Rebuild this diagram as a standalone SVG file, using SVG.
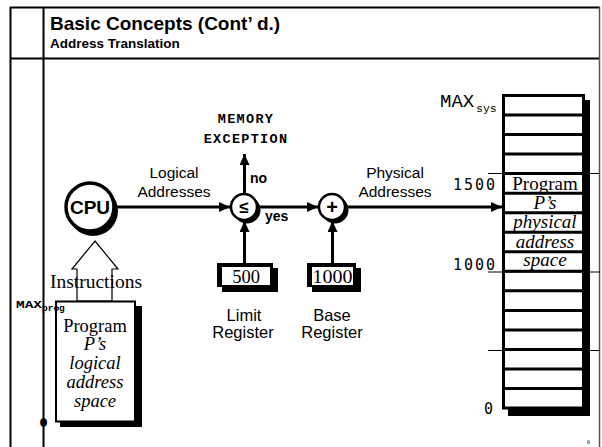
<svg xmlns="http://www.w3.org/2000/svg" width="602" height="447" viewBox="0 0 602 447">
  <style>
    .frame { stroke: #000; stroke-width: 2; fill: none; }
    .thin { stroke: #000; stroke-width: 1; fill: none; }
    .conn { stroke: #000; stroke-width: 3; fill: none; }
    .sans { font-family: "Liberation Sans", Arial, sans-serif; }
    .serif { font-family: "Liberation Serif", "Times New Roman", serif; }
    .mono { font-family: "Liberation Mono", "Courier New", monospace; }
    .dmono { font-family: "DejaVu Sans Mono", monospace; }
    .node { fill: #fff; stroke: #000; }
    .shadow { fill: #000; }
    .row { stroke: #000; stroke-width: 3; }
  </style>
  <defs>
    <marker id="head" markerUnits="userSpaceOnUse" markerWidth="11" markerHeight="10" refX="11" refY="5" orient="auto">
      <path d="M0,0 L11,5 L0,10 z" fill="#000"/>
    </marker>
  </defs>

  <!-- slide frame -->
  <g id="frame">
    <line class="frame" x1="10.5" y1="7" x2="10.5" y2="447" stroke-width="2.5"/>
    <line class="frame" x1="43.5" y1="7" x2="43.5" y2="447"/>
    <line class="frame" x1="10" y1="7.5" x2="600" y2="7.5"/>
    <line class="frame" x1="10" y1="58.5" x2="600" y2="58.5"/>
    <line x1="599.5" y1="7" x2="599.5" y2="447" stroke="#555" stroke-width="1.5"/>
  </g>

  <!-- heading -->
  <g id="title">
    <text class="sans" x="50" y="30" font-size="19" font-weight="bold">Basic Concepts (Cont’ d.)</text>
    <text class="sans" x="50" y="48" font-size="13.5" font-weight="bold">Address Translation</text>
  </g>

  <!-- connectors -->
  <g id="connectors">
    <line class="conn" x1="115" y1="207" x2="230" y2="207" marker-end="url(#head)"/>
    <line class="conn" x1="244.5" y1="193" x2="244.5" y2="154" marker-end="url(#head)"/>
    <line class="conn" x1="258" y1="207" x2="318" y2="207" marker-end="url(#head)"/>
    <line class="conn" x1="244.5" y1="263" x2="244.5" y2="221" marker-end="url(#head)"/>
    <line class="conn" x1="332.5" y1="263" x2="332.5" y2="221" marker-end="url(#head)"/>
    <line class="conn" x1="346" y1="207" x2="502" y2="207" marker-end="url(#head)"/>
  </g>

  <!-- connector labels -->
  <g id="labels">
    <text class="sans" x="174" y="178" font-size="15.5" text-anchor="middle">Logical</text>
    <text class="sans" x="174" y="197" font-size="15.5" text-anchor="middle">Addresses</text>
    <text class="sans" x="395" y="178" font-size="15.5" text-anchor="middle">Physical</text>
    <text class="sans" x="395" y="197" font-size="15.5" text-anchor="middle">Addresses</text>
    <text class="mono" x="246" y="123" font-size="13.5" font-weight="bold" text-anchor="middle" letter-spacing="1.3">MEMORY</text>
    <text class="mono" x="246" y="143" font-size="13.5" font-weight="bold" text-anchor="middle" letter-spacing="1.3">EXCEPTION</text>
    <text class="sans" x="250" y="183" font-size="14" font-weight="bold">no</text>
    <text class="sans" x="265" y="221" font-size="14" font-weight="bold">yes</text>
  </g>

  <!-- CPU -->
  <g id="cpu">
    <circle class="shadow" cx="93" cy="211" r="25"/>
    <circle class="node" cx="90" cy="207" r="24" stroke-width="3.5"/>
    <text class="sans" x="90" y="214" font-size="19" font-weight="bold" text-anchor="middle">CPU</text>
  </g>

  <!-- limit comparator -->
  <g id="compare">
    <circle class="shadow" cx="247" cy="210" r="13.5"/>
    <circle class="node" cx="244" cy="207" r="13" stroke-width="2.5"/>
    <text class="sans" x="244" y="213" font-size="17" font-weight="bold" text-anchor="middle">≤</text>
  </g>

  <!-- base adder -->
  <g id="adder">
    <circle class="shadow" cx="335" cy="210" r="13.5"/>
    <circle class="node" cx="332" cy="207" r="13" stroke-width="2.5"/>
    <text class="sans" x="332" y="214" font-size="20" font-weight="bold" text-anchor="middle">+</text>
  </g>

  <!-- limit register -->
  <g id="limit-register">
    <rect class="shadow" x="222" y="268" width="56" height="24"/>
    <rect x="217" y="263" width="56" height="24" fill="#000"/>
    <rect x="222" y="267" width="48" height="18" fill="#fff"/>
    <text class="serif" x="246" y="283" font-size="18.5" text-anchor="middle">500</text>
    <text class="sans" x="244" y="321" font-size="16.5" text-anchor="middle">Limit</text>
    <text class="sans" x="243" y="338" font-size="16.5" text-anchor="middle">Register</text>
  </g>

  <!-- base register -->
  <g id="base-register">
    <rect class="shadow" x="312" y="268" width="49" height="24"/>
    <rect x="307" y="263" width="49" height="24" fill="#000"/>
    <rect x="312" y="267" width="41" height="18" fill="#fff"/>
    <text class="serif" x="312.5" y="283" font-size="18.5" textLength="40" lengthAdjust="spacingAndGlyphs">1000</text>
    <text class="sans" x="332" y="321" font-size="16.5" text-anchor="middle">Base</text>
    <text class="sans" x="332" y="338" font-size="16.5" text-anchor="middle">Register</text>
  </g>

  <!-- program logical address space -->
  <g id="program">
    <polygon points="77,301 77,269 72,269 95,241 118,269 112,269 112,301" fill="#fff" stroke="#000" stroke-width="1.2"/>
    <text class="serif" x="96" y="288" font-size="19.5" text-anchor="middle">Instructions</text>
    <rect class="shadow" x="60" y="306" width="82" height="121"/>
    <rect class="node" x="56" y="301.5" width="79" height="120" stroke-width="2"/>
    <text class="serif" x="95" y="332" font-size="18.5" text-anchor="middle">Program</text>
    <text class="serif" x="95" y="350" font-size="18.5" font-style="italic" text-anchor="middle">P’s</text>
    <text class="serif" x="95" y="369" font-size="18.5" font-style="italic" text-anchor="middle">logical</text>
    <text class="serif" x="95" y="388" font-size="18.5" font-style="italic" text-anchor="middle">address</text>
    <text class="serif" x="95" y="407" font-size="18.5" font-style="italic" text-anchor="middle">space</text>
    <text class="mono" x="16" y="308" font-size="10.5" font-weight="bold" textLength="26" lengthAdjust="spacingAndGlyphs">MAX</text>
    <text class="mono" x="42" y="311" font-size="9.5" font-weight="bold">prog</text>
    <text class="mono" x="43.5" y="426" font-size="11" font-weight="bold" text-anchor="middle" stroke="#000" stroke-width="1.5">0</text>
  </g>

  <!-- physical memory -->
  <g id="memory">
    <rect class="shadow" x="508" y="100" width="82" height="316"/>
    <rect class="node" x="503.5" y="95.5" width="80" height="312.5" stroke-width="3"/>
    <text class="serif" x="545" y="190" font-size="19" text-anchor="middle">Program</text>
    <text class="serif" x="545" y="209" font-size="19" font-style="italic" text-anchor="middle">P’s</text>
    <text class="serif" x="545" y="228" font-size="19" font-style="italic" text-anchor="middle">physical</text>
    <text class="serif" x="545" y="248" font-size="19" font-style="italic" text-anchor="middle">address</text>
    <text class="serif" x="545" y="266" font-size="19" font-style="italic" text-anchor="middle">space</text>
    <g>
      <line class="row" x1="503.5" y1="115" x2="583.5" y2="115"/>
      <line class="row" x1="503.5" y1="134.6" x2="583.5" y2="134.6"/>
      <line class="row" x1="503.5" y1="154.1" x2="583.5" y2="154.1"/>
      <line class="row" x1="503.5" y1="173.6" x2="583.5" y2="173.6"/>
      <line class="row" x1="503.5" y1="193.2" x2="583.5" y2="193.2"/>
      <line class="row" x1="503.5" y1="212.7" x2="583.5" y2="212.7"/>
      <line class="row" x1="503.5" y1="232.2" x2="583.5" y2="232.2"/>
      <line class="row" x1="503.5" y1="251.8" x2="583.5" y2="251.8"/>
      <line class="row" x1="503.5" y1="271.3" x2="583.5" y2="271.3"/>
      <line class="row" x1="503.5" y1="290.8" x2="583.5" y2="290.8"/>
      <line class="row" x1="503.5" y1="310.4" x2="583.5" y2="310.4"/>
      <line class="row" x1="503.5" y1="329.9" x2="583.5" y2="329.9"/>
      <line class="row" x1="503.5" y1="349.4" x2="583.5" y2="349.4"/>
      <line class="row" x1="503.5" y1="369" x2="583.5" y2="369"/>
      <line class="row" x1="503.5" y1="388.5" x2="583.5" y2="388.5"/>
    </g>
    <line class="thin" x1="488" y1="173.5" x2="600" y2="173.5"/>
    <line class="thin" x1="488" y1="272" x2="600" y2="272"/>
    <line class="thin" x1="488" y1="350.5" x2="600" y2="350.5"/>
    <text class="mono" x="440" y="107" font-size="19">MAX</text>
    <text class="mono" x="476" y="112" font-size="11.5">sys</text>
    <text class="dmono" x="453" y="190" font-size="15" letter-spacing="2">1500</text>
    <text class="dmono" x="453" y="270" font-size="15" letter-spacing="2">1000</text>
    <text class="dmono" x="484" y="414" font-size="15">0</text>
  </g>

  <!-- page number -->
  <text class="serif" x="587" y="444" font-size="6">6</text>
</svg>
